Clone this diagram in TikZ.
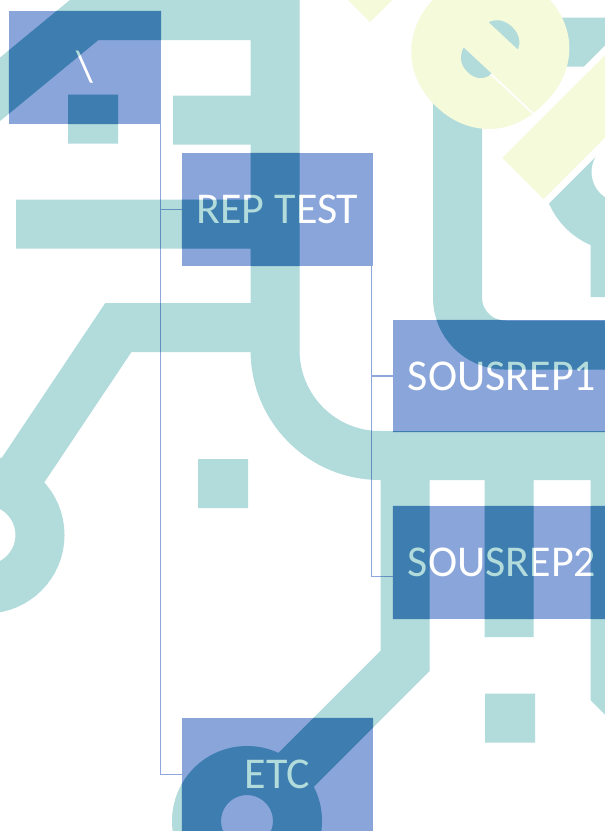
\documentclass[tikz,border=0pt]{standalone}
\usepackage{fontspec}
\setmainfont{Carlito}
\newfontfamily\logofont{Poppins}[FakeBold=4.5]

\definecolor{boxblue}{HTML}{8AA5DA}
\definecolor{boxdeep}{HTML}{5892CD}
\definecolor{tracecol}{HTML}{B2DBDB}
\definecolor{linkblue}{HTML}{8EA8DF}
\definecolor{leafyellow}{HTML}{F5FADB}

% Circuit-like watermark traces as one single stroke, so that
% overlapping pieces are painted only once; #1 = extra options
\newcommand\circuittraces[1]{%
  \draw[line width=49pt, line join=miter, line cap=butt, miter limit=10, #1]
    % reversed E with its diagonal lead, the left spine and the lower bus
    (-40,122.3) -- (89.6,15.5) -- (275,15.5) -- (275,350)
      .. controls (275,408.3) and (321.7,455.5) .. (380,455.5) -- (650,455.5)
    (173,120) -- (275,120)
    (16,224) -- (275,224)
    % lead to the left ring pad
    (275,327.5) -- (118.4,327.5) -- (12.8,485.4)
    (-14,535) circle[radius=54]
    % teeth of the lower bus
    (405,455.5) -- (405,661) -- (282.4,783.6)
    (247,821) circle[radius=50.5]
    (509,455.5) -- (509,637)
    (615,455.5) -- (615,690) -- (665,740)
    % hook on the right
    (650,42) -- (509.5,42) .. controls (480.8,42) and (457.5,65.3) .. (457.5,94)
      -- (457.5,297.5) .. controls (457.5,323.7) and (478.8,345) .. (505,345) -- (650,345)
    (622,172) circle[radius=55]
    (615,215) -- (615,297)
    % square pads
    (68,119) -- (118,119)
    (198,483.5) -- (248,483.5)
    (485,718) -- (535,718);}

\begin{document}
\begin{tikzpicture}[x=1pt,y=-1pt,
  box/.style={fill=boxblue, draw=none, inner sep=0pt, minimum height=113pt},
  boxtext/.style={text=white, font=\fontsize{44}{44}\selectfont, inner sep=0pt},
  link/.style={draw=linkblue, line width=1.4pt},
  eglyph/.style={inner sep=0pt, rotate=-43, font=\logofont\bfseries\fontsize{252}{252}\selectfont}]
\useasboundingbox (0,0) rectangle (605,831);
\fill[white] (0,0) rectangle (605,831);
\begin{scope}
\clip (0,0) rectangle (605,831);

% boxes
\node[box, minimum width=152pt] (root) at (85,67.5) {};
\node[box, minimum width=191pt] (rep) at (277.5,209.5) {};
\node[box, minimum width=218pt, minimum height=112pt] (s1) at (502,376) {};
\node[box, minimum width=218pt] (s2) at (502,562.5) {};
\node[box, minimum width=191pt] (etc) at (277.5,774.5) {};

% deeper tone where the traces cross the boxes
\begin{scope}
  \clip (root.north west) rectangle (root.south east)
        (rep.north west) rectangle (rep.south east)
        (s1.north west) rectangle (s1.south east)
        (s2.north west) rectangle (s2.south east)
        (etc.north west) rectangle (etc.south east);
  \circuittraces{draw=boxdeep}
\end{scope}

% labels
\node[boxtext] (root-t) at (root) {\textbackslash};
\node[boxtext] (rep-t) at (rep) {REP TEST};
\node[boxtext] (s1-t) at (s1) {SOUSREP1};
\node[boxtext] (s2-t) at (s2) {SOUSREP2};
\node[boxtext] (etc-t) at (etc) {ETC};

% tree connectors
\draw[link] ([xshift=-0.5pt]root.south east) |- (rep.west);
\draw[link] ([xshift=-0.5pt]root.south east) |- (etc.west);
\draw[link] ([xshift=-2pt]rep.south east) |- (s1.west);
\draw[link] ([xshift=-2pt]rep.south east) |- ([yshift=-14pt]s2.west);

% watermark traces multiplied over everything
\circuittraces{draw=tracecol, blend mode=multiply}

% yellow logo pieces
\draw[white, line width=72pt] (517,184.5) -- (665,36.5);
\draw[leafyellow, line width=58pt] (523,178.5) -- (665,36.5);
\node[eglyph, text=leafyellow] (e-glyph) at (490,50) {e};
\fill[leafyellow] (346,-2) -- (370,22) -- (394,-2) -- cycle;
\end{scope}
\end{tikzpicture}
\end{document}
